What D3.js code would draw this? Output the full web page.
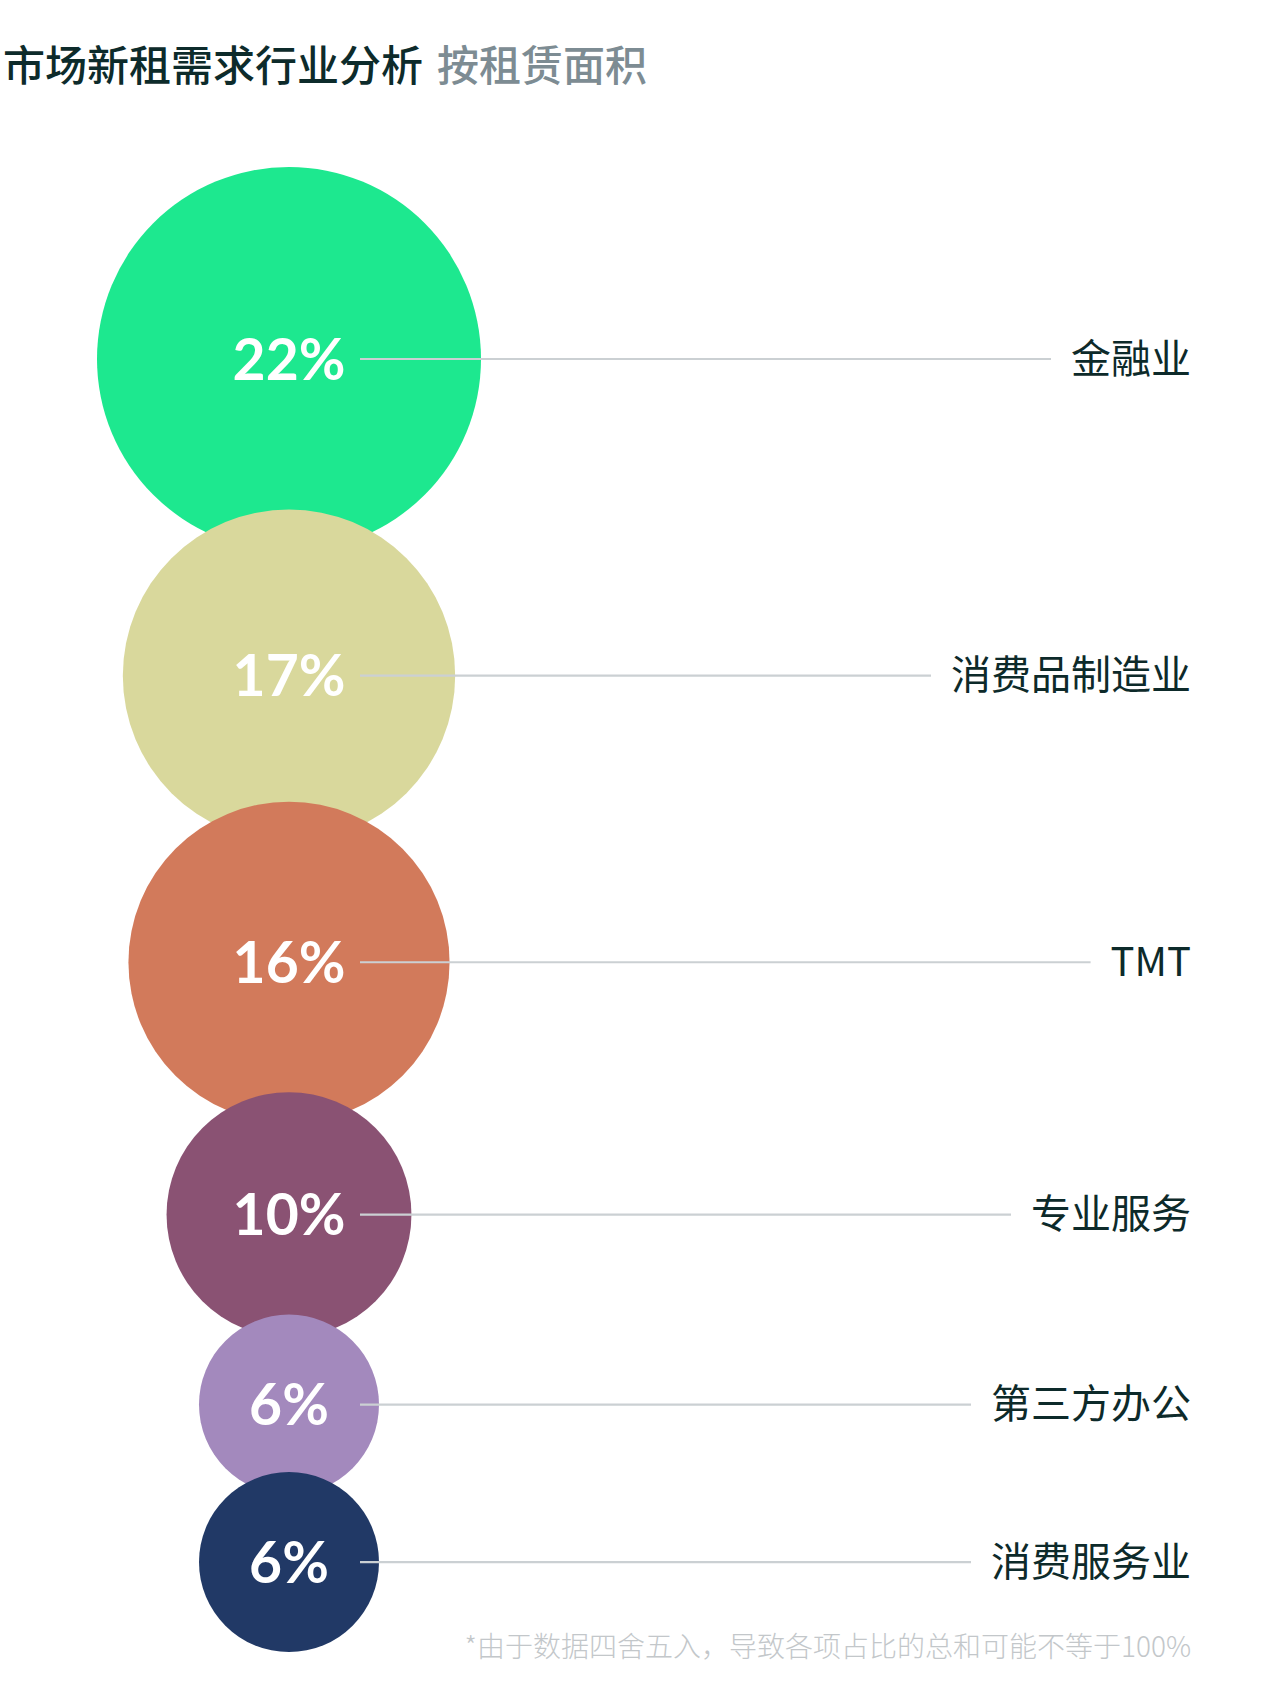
<!DOCTYPE html>
<html>
<head>
<meta charset="utf-8">
<script src="https://cdn.jsdelivr.net/npm/d3@7"></script>
<style>
  html, body { margin: 0; padding: 0; background: #ffffff; }
  svg { display: block; }
</style>
</head>
<body>
<svg id="chart" width="1280" height="1688"></svg>
<script>
// ---- data ----
const categories = ["金融业", "消费品制造业", "TMT", "专业服务", "第三方办公", "消费服务业"];
const values = [22, 17, 16, 10, 6, 6];
const colors = ["#1de88f", "#d9d89c", "#d27a5b", "#8a5273", "#a389bd", "#213966"];
const titleMain = "市场新租需求行业分析";
const titleSub = "按租赁面积";
const footnote = "*由于数据四舍五入，导致各项占比的总和可能不等于100%";

// ---- layout ----
const W = 1280, H = 1688;
const cx = 289;
const stackTop = 167;
const overlapRatio = 0.25;
const lineStartX = 360;
const labelRight = 1191;
const labelGap = 20;

const svg = d3.select("#chart");

const rScale = d3.scaleSqrt()
  .domain([d3.min(values), d3.max(values)])
  .range([90, 192]);

const nodes = categories.map((c, i) => ({ name: c, value: values[i], color: colors[i], r: rScale(values[i]) }));
nodes.forEach((d, i) => {
  if (i === 0) d.cy = stackTop + d.r;
  else {
    const p = nodes[i - 1];
    d.cy = p.cy + p.r + d.r - overlapRatio * d.r;
  }
});

// title
const title = svg.append("text")
  .attr("x", 3)
  .attr("y", 62)
  .attr("dominant-baseline", "central")
  .style("font-family", "'Noto Sans CJK SC', sans-serif")
  .style("font-size", "42px")
  .style("font-weight", 500);
title.append("tspan").attr("fill", "#0d2b2b").text(titleMain);
title.append("tspan").attr("fill", "#7d8c93").attr("dx", 14).text(titleSub);

// circles
svg.append("g").selectAll("circle")
  .data(nodes)
  .join("circle")
  .attr("cx", cx)
  .attr("cy", d => d.cy)
  .attr("r", d => d.r)
  .attr("fill", d => d.color);

// labels (right side)
const labels = svg.append("g").selectAll("text")
  .data(nodes)
  .join("text")
  .attr("x", labelRight)
  .attr("y", d => d.cy)
  .attr("dy", "-0.08em")
  .attr("text-anchor", "end")
  .attr("dominant-baseline", "central")
  .attr("fill", "#0d2a2a")
  .style("font-family", "'Noto Sans CJK SC', sans-serif")
  .style("font-size", "40px")
  .style("font-weight", 400)
  .text(d => d.name);

labels.each(function(d) {
  d.labelLeft = labelRight - this.getComputedTextLength();
});

// leader lines
svg.append("g").selectAll("line")
  .data(nodes)
  .join("line")
  .attr("x1", lineStartX)
  .attr("x2", d => d.labelLeft - labelGap)
  .attr("y1", d => d.cy)
  .attr("y2", d => d.cy)
  .attr("stroke", "#cbd0d3")
  .attr("stroke-width", 2.2);

// percentage text
svg.append("g").selectAll("text")
  .data(nodes)
  .join("text")
  .attr("x", cx)
  .attr("y", d => d.cy)
  .attr("dy", "0.36em")
  .attr("text-anchor", "middle")
  .attr("fill", "#ffffff")
  .style("font-family", "Lato, 'Noto Sans', sans-serif")
  .style("font-size", "57px")
  .style("font-weight", 700)
  .text(d => d.value + "%");

// footnote
svg.append("text")
  .attr("x", labelRight)
  .attr("y", 1645)
  .attr("text-anchor", "end")
  .attr("dominant-baseline", "central")
  .attr("fill", "#c3c7ca")
  .style("font-family", "'Noto Sans CJK SC', sans-serif")
  .style("font-size", "28px")
  .style("font-weight", 300)
  .text(footnote);
</script>
</body>
</html>
